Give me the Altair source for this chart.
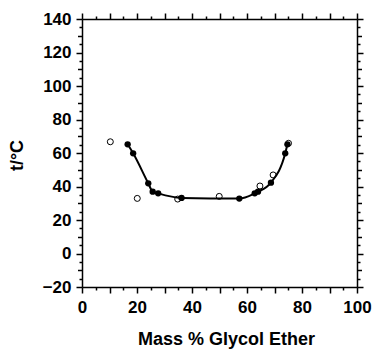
import altair as alt
import pandas as pd

# Filled points (fitted data, joined by the curve)
fill_x = [16.6, 18.6, 24.1, 25.7, 27.7, 36.2, 57.2, 62.8, 64.0, 68.7, 73.9, 74.7]
fill_t = [65.2, 59.8, 41.9, 36.9, 35.9, 33.2, 32.8, 35.9, 36.9, 42.3, 59.8, 65.2]

# Open points
open_x = [10.3, 20.1, 34.8, 49.9, 64.7, 69.5, 75.1]
open_t = [66.7, 32.9, 32.5, 34.1, 40.3, 46.9, 65.8]

x_ticks = list(range(0, 101, 5))
y_ticks = list(range(-20, 141, 5))

filled = pd.DataFrame({"x": fill_x, "t": fill_t})
opened = pd.DataFrame({"x": open_x, "t": open_t})

FONT = "Liberation Sans"
xs = alt.Scale(domain=[0, 100], nice=False, zero=False)
ys = alt.Scale(domain=[-20, 140], nice=False, zero=False)

x_tick_size = {"condition": {"test": "datum.value % 10 === 0", "value": 6}, "value": 3}
y_tick_size = {"condition": [{"test": "datum.value % 20 === 0", "value": 6},
                             {"test": "datum.value % 10 === 0", "value": 4.5}], "value": 3}

common = dict(domainColor="black", domainWidth=1.5, tickColor="black", tickWidth=1.5,
              grid=False, labelFont=FONT, labelFontSize=17, labelFontWeight="bold",
              labelColor="black", titleFont=FONT, titleFontSize=18, titleFontWeight="bold",
              titleColor="black", labelOverlap=False, labelFlush=False)

x_bottom = alt.Axis(orient="bottom", values=x_ticks, tickSize=x_tick_size,
                    labelExpr="datum.value % 20 === 0 ? datum.label : ''",
                    labelPadding=6, title="Mass % Glycol Ether",
                    titleX=144, titleY=57, titleBaseline="alphabetic", titleAlign="center",
                    **common)
y_left = alt.Axis(orient="left", values=y_ticks, tickSize=y_tick_size,
                  labelExpr="datum.value % 20 === 0 ? datum.label : ''",
                  labelPadding=5, title="t/°C", titleAngle=-90,
                  titleX=-65, titleY=136, titleBaseline="middle", titleAlign="center",
                  **common)
x_top = alt.Axis(orient="top", values=x_ticks, tickSize=x_tick_size, labels=False,
                 title=None, **common)
y_right = alt.Axis(orient="right", values=y_ticks, tickSize=y_tick_size, labels=False,
                   title=None, **common)

open_layer = alt.Chart(opened).mark_point(
    shape="circle", filled=False, color="black", strokeWidth=1, size=36, opacity=1
).encode(
    x=alt.X("x:Q", scale=xs, axis=x_top),
    y=alt.Y("t:Q", scale=ys, axis=y_right),
)

line_layer = alt.Chart(filled).mark_line(
    color="black", strokeWidth=2, interpolate="monotone"
).encode(
    x=alt.X("x:Q", scale=xs, axis=x_bottom),
    y=alt.Y("t:Q", scale=ys, axis=y_left),
)

fill_layer = alt.Chart(filled).mark_point(
    shape="circle", filled=True, color="black", size=40, opacity=1
).encode(
    x=alt.X("x:Q", scale=xs, axis=None),
    y=alt.Y("t:Q", scale=ys, axis=None),
)

chart = alt.layer(open_layer, line_layer, fill_layer).resolve_axis(
    x="independent", y="independent"
).properties(
    width=275, height=268,
    autosize=alt.AutoSizeParams(type="none"),
    padding={"left": 82, "top": 19, "right": 18, "bottom": 62},
    background="white",
).configure_view(stroke=None)

chart.save("out.html", embed_options={"renderer": "svg", "actions": False})
